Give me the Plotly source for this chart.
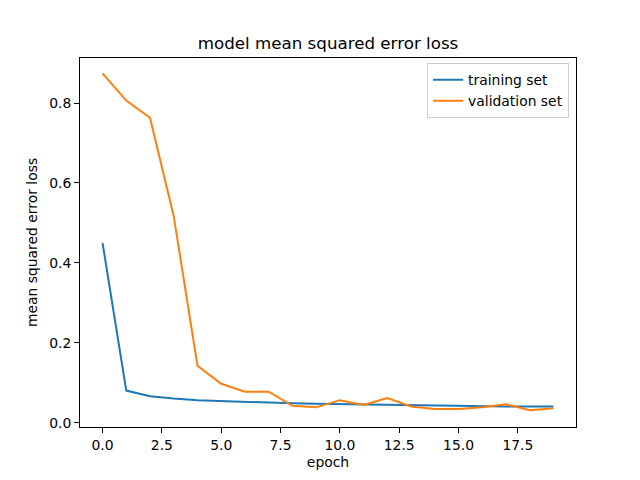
import plotly.graph_objects as go

epochs = list(range(20))
training_loss = [0.450, 0.081, 0.067, 0.061, 0.057, 0.055, 0.052, 0.051, 0.049, 0.048,
                 0.047, 0.046, 0.045, 0.044, 0.043, 0.042, 0.042, 0.041, 0.041, 0.041]
validation_loss = [0.874, 0.806, 0.763, 0.517, 0.143, 0.098, 0.078, 0.078, 0.043, 0.039,
                   0.057, 0.045, 0.062, 0.041, 0.035, 0.035, 0.039, 0.047, 0.032, 0.037]
x_ticks = [0, 2.5, 5, 7.5, 10, 12.5, 15, 17.5]
y_ticks = [0.0, 0.2, 0.4, 0.6, 0.8]

fig = go.Figure()
fig.add_trace(go.Scatter(x=epochs, y=training_loss, mode="lines", name="training set",
                         line=dict(color="#1f77b4", width=2)))
fig.add_trace(go.Scatter(x=epochs, y=validation_loss, mode="lines", name="validation set",
                         line=dict(color="#ff7f0e", width=2)))

axis_common = dict(showgrid=False, zeroline=False, showline=True, linecolor="black",
                   linewidth=1, mirror=True, ticks="outside", ticklen=5, tickcolor="black",
                   tickfont=dict(size=13.9, color="black"), automargin=False)

# page body has an 8px margin, so the figure is offset by 8px in the screenshot
fig.update_layout(
    width=640, height=480,
    paper_bgcolor="white", plot_bgcolor="white",
    font=dict(family="DejaVu Sans", color="black"),
    margin=dict(l=72, r=72, t=50, b=61),
    title=dict(text="model mean squared error loss", x=0.5, xanchor="center",
               y=1 - 35 / 480, yanchor="middle", font=dict(size=16.7)),
    xaxis=dict(range=[-0.95, 19.95], tickvals=x_ticks, tickformat=".1f",
               title=dict(text="epoch", font=dict(size=13.9), standoff=5), **axis_common),
    yaxis=dict(range=[-0.0101, 0.9125], tickvals=y_ticks, tickformat=".1f",
               title=dict(text="mean squared error loss", font=dict(size=13.9), standoff=8),
               **axis_common),
    legend=dict(x=0.986, y=0.986, xanchor="right", yanchor="top",
                bordercolor="#cccccc", borderwidth=1, bgcolor="rgba(255,255,255,0.8)",
                font=dict(size=13.9), tracegroupgap=0),
    showlegend=True,
)

fig.write_html("out.html")
